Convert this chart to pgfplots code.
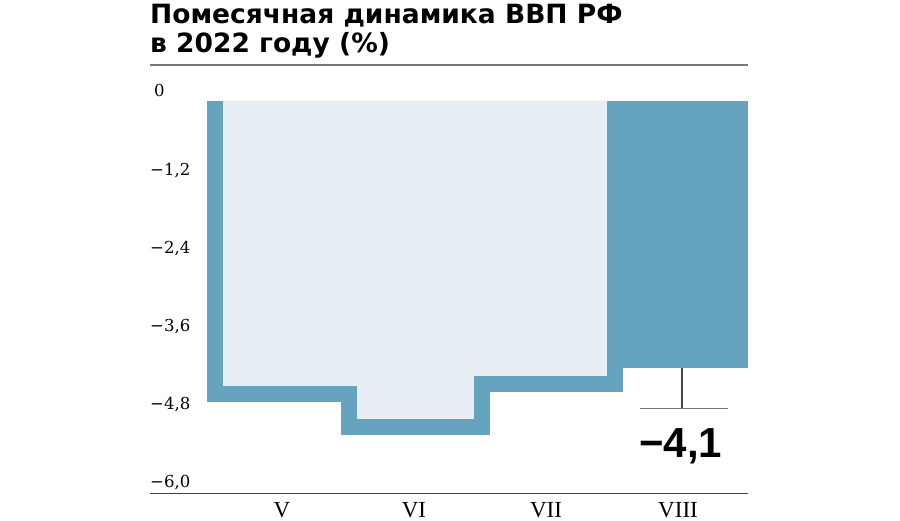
\documentclass[border=0pt]{standalone}
\usepackage{fontspec}
\usepackage{pgfplots}
\pgfplotsset{compat=1.18}
\setmainfont{DejaVu Serif}
\newfontfamily\titlefont{DejaVu Sans}
\newfontfamily\numfont{Liberation Sans}
\newfontfamily\catfont{Liberation Serif}
\definecolor{barblue}{RGB}{102,163,190}
\definecolor{lightfill}{RGB}{231,239,245}
\definecolor{rulegray}{RGB}{120,120,120}
\definecolor{basegray}{RGB}{70,70,70}
\begin{document}
\begin{tikzpicture}
\useasboundingbox (0,0) rectangle (900pt,521pt);
\begin{axis}[
 at={(150pt,27.5pt)}, anchor=south west,
 scale only axis, width=598pt, height=428.5pt,
 xmin=-1, xmax=3.53, ymin=-6.029, ymax=0.553,
 axis line style={draw=none}, tick style={draw=none},
 xtick={0,1,2,3}, xticklabels={V,VI,VII,VIII},
 xticklabel style={anchor=north, inner sep=0pt, yshift=-8.5pt, font=\catfont\fontsize{23}{23}\selectfont},
 ytick={-6,-4.8,-3.6,-2.4,-1.2,0},
 yticklabels={{−6,0},{−4,8},{−3,6},{−2,4},{−1,2},\hspace*{4pt}0},
 yticklabel style={anchor=base west, inner sep=0pt, yshift=4pt, font=\fontsize{16.5}{16.5}\selectfont},
 clip=false,
]
\addplot[draw=none, fill=lightfill, const plot] coordinates {(-0.508,-4.5) (0.51,-5.0) (1.515,-4.35) (2.52,-4.35)} \closedcycle;
\addplot[barblue, line width=16pt, line join=miter, line cap=butt] coordinates {(-0.508,0) (-0.508,-4.5) (0.51,-4.5) (0.51,-5.0) (1.515,-5.0) (1.515,-4.35) (2.52,-4.35) (2.52,0)};
\addplot[ybar, bar width=1.07, fill=barblue, draw=none] coordinates {(2.995,-4.1)};
\draw[basegray, line width=1.2pt] (axis cs:3.03,-4.1) -- (axis cs:3.03,-4.72);
\draw[rulegray, line width=1.5pt] (axis cs:2.71,-4.72) -- (axis cs:3.38,-4.72);
\node[anchor=base, inner sep=0pt] at (axis cs:3.02,-5.47) {\numfont\bfseries\fontsize{42}{42}\selectfont −4,1};
\draw[rulegray, line width=2pt] (rel axis cs:0,1) -- (rel axis cs:1,1);
\draw[basegray, line width=1.5pt] (rel axis cs:0,0) -- (rel axis cs:1,0);
\end{axis}
\node[anchor=base west, inner sep=0pt] at (150pt,497.7pt) {\titlefont\bfseries\fontsize{26.5}{26.5}\selectfont Помесячная динамика ВВП РФ};
\node[anchor=base west, inner sep=0pt] at (150pt,468pt) {\titlefont\bfseries\fontsize{26.5}{26.5}\selectfont в 2022 году (\%)};
\end{tikzpicture}
\end{document}
